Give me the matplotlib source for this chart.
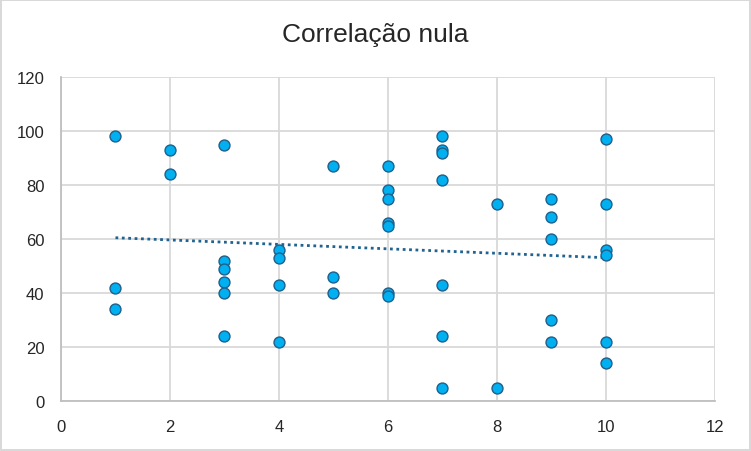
import matplotlib
matplotlib.use("Agg")
import matplotlib.pyplot as plt
import numpy as np

x_vals = [1, 1, 1,
          2, 2,
          3, 3, 3, 3, 3, 3,
          4, 4, 4, 4,
          5, 5, 5,
          6, 6, 6, 6, 6, 6, 6,
          7, 7, 7, 7, 7, 7, 7,
          8, 8,
          9, 9, 9, 9, 9,
          10, 10, 10, 10, 10, 10]
y_vals = [98, 42, 34,
          93, 84,
          95, 52, 49, 44, 40, 24,
          56, 53, 43, 22,
          87, 46, 40,
          87, 78, 75, 66, 65, 40, 39,
          98, 93, 92, 82, 43, 24, 5,
          73, 5,
          75, 68, 60, 30, 22,
          97, 73, 56, 54, 22, 14]
x_ticks = [0, 2, 4, 6, 8, 10, 12]
y_ticks = [0, 20, 40, 60, 80, 100, 120]
title = "Correlação nula"

plt.rcParams['font.family'] = ['Liberation Sans', 'DejaVu Sans']

fig = plt.figure(figsize=(7.51, 4.52), dpi=100)
fig.patch.set_facecolor('white')
fig.patch.set_edgecolor('#d9d9d9')
fig.patch.set_linewidth(1.5)
ax = fig.add_axes([0.0812, 0.1106, 0.952 - 0.0812, 0.8274 - 0.1106])

xa = np.array(x_vals, dtype=float)
ya = np.array(y_vals, dtype=float)
m, b = np.polyfit(xa, ya, 1)
xl = np.array([xa.min(), xa.max()])
ax.plot(xl, m * xl + b, linestyle=(0, (1, 1.3)), color='#1f6391', linewidth=2, zorder=2)

ax.scatter(xa, ya, s=62, facecolor='#00b0f0', edgecolor='#1f5f8b', linewidth=1, zorder=3)

ax.set_xlim(0, 12)
ax.set_ylim(0, 120)
ax.set_xticks(x_ticks)
ax.set_yticks(y_ticks)
ax.grid(True, color='#d9d9d9', linewidth=1.3)
ax.set_axisbelow(True)
for s in ['top', 'right']:
    ax.spines[s].set_visible(False)
for s in ['bottom', 'left']:
    ax.spines[s].set_color('#bfbfbf')
    ax.spines[s].set_linewidth(1.3)
ax.tick_params(length=0, labelsize=12, labelcolor='#262626')
ax.tick_params(axis='x', pad=13)
ax.tick_params(axis='y', pad=12)

fig.text(0.5, 0.923, title, ha='center', va='center', fontsize=19, color='#262626')

fig.savefig('out.png', dpi=100)
